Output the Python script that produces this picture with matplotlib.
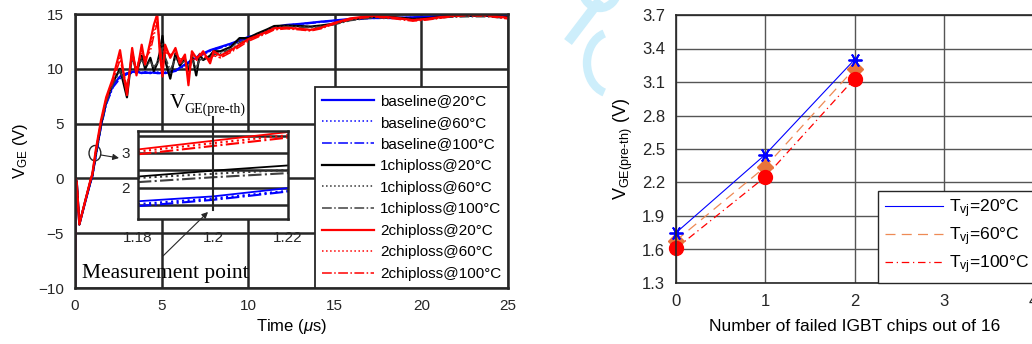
import matplotlib
matplotlib.use("Agg")
import matplotlib.pyplot as plt
from matplotlib.patches import Ellipse, Arc, FancyArrowPatch

plt.rcParams['font.family'] = ['Liberation Sans', 'DejaVu Sans']
plt.rcParams['mathtext.fontset'] = 'custom'
plt.rcParams['mathtext.rm'] = 'Liberation Sans'
plt.rcParams['mathtext.it'] = 'Liberation Sans:italic'
plt.rcParams['mathtext.bf'] = 'Liberation Sans:bold'

# ---- left panel: gate voltage waveforms ----
t_us = [0, 0.02, 0.1, 0.25, 0.6, 0.9, 1.0, 1.2, 1.5, 1.8, 2.2, 2.6, 3.0, 3.3, 3.55,
        3.85, 4.05, 4.35, 4.55, 4.75, 4.9, 5.05, 5.2, 5.5, 5.8, 6.05, 6.35, 6.55, 6.75, 7.0,
        7.2, 7.4, 7.8, 8.0, 8.4, 9.0, 9.5, 10.0, 10.5, 11.1, 11.5, 12.2, 13.0, 13.6, 14.2,
        14.9, 15.9, 17.2, 18.5, 19.5, 20.3, 21.5, 22.6, 23.8, 25.0]

base_20 = [-9.6, 0, -0.3, -4.2, -2.1, -0.3, 0.2, 2.1, 4.8, 6.9, 8.5, 9.3, 9.6, 9.7, 9.8,
           9.6, 9.7, 9.6, 9.7, 9.6, 9.6, 9.7, 9.6, 9.7, 9.8, 10.1, 10.4, 10.6, 10.8, 11.0,
           11.3, 11.4, 11.7, 11.8, 12.0, 12.3, 12.6, 12.9, 13.1, 13.5, 13.8, 14.0, 14.1, 14.2, 14.3,
           14.4, 14.55, 14.65, 14.65, 14.7, 14.75, 14.85, 14.85, 14.85, 14.85]
base_60 = [-9.6, 0, -0.3, -4.2, -2.1, -0.3, 0.2, 2.0, 4.7, 6.8, 8.4, 9.2, 9.5, 9.7, 9.7,
           9.7, 9.6, 9.7, 9.6, 9.7, 9.7, 9.6, 9.7, 9.8, 9.9, 10.1, 10.3, 10.5, 10.7, 11.0,
           11.2, 11.4, 11.6, 11.8, 12.0, 12.3, 12.5, 12.8, 13.1, 13.4, 13.7, 14.0, 14.1, 14.2, 14.3,
           14.4, 14.5, 14.6, 14.65, 14.7, 14.75, 14.8, 14.85, 14.85, 14.8]
base_100 = [-9.6, 0, -0.3, -4.2, -2.1, -0.4, 0.1, 1.9, 4.6, 6.7, 8.3, 9.1, 9.5, 9.6, 9.7,
            9.6, 9.6, 9.6, 9.6, 9.6, 9.6, 9.6, 9.6, 9.7, 9.8, 10.0, 10.3, 10.5, 10.7, 10.9,
            11.1, 11.3, 11.6, 11.7, 11.9, 12.2, 12.5, 12.8, 13.0, 13.4, 13.7, 13.9, 14.05, 14.15, 14.25,
            14.35, 14.5, 14.6, 14.6, 14.65, 14.7, 14.8, 14.8, 14.8, 14.8]

chip1_20 = [-9.6, 0, -0.3, -4.2, -2.0, -0.2, 0.3, 2.3, 5.0, 7.1, 8.8, 10.0, 7.4, 11.5, 9.6,
            11.2, 10.0, 11.0, 9.8, 10.5, 11.5, 13.0, 10.8, 9.1, 11.4, 10.3, 10.9, 9.8, 11.3, 9.4,
            11.3, 10.8, 11.2, 11.6, 11.6, 12.0, 12.8, 12.8, 13.2, 13.6, 13.9, 13.95, 13.9, 13.85, 13.95,
            14.1, 14.5, 14.75, 14.7, 14.55, 14.6, 14.8, 14.85, 14.85, 14.7]
chip1_60 = [-9.6, 0, -0.3, -4.2, -2.0, -0.2, 0.3, 2.2, 4.9, 7.0, 8.7, 9.9, 7.9, 11.1, 9.9,
            11.0, 10.2, 10.8, 10.0, 10.6, 11.2, 12.4, 11.0, 9.5, 11.1, 10.4, 10.8, 10.0, 11.0, 9.8,
            11.0, 10.9, 11.1, 11.4, 11.5, 11.9, 12.6, 12.7, 13.1, 13.5, 13.8, 13.9, 13.85, 13.8, 13.9,
            14.05, 14.45, 14.7, 14.65, 14.5, 14.55, 14.75, 14.8, 14.8, 14.65]
chip1_100 = [-9.6, 0, -0.3, -4.2, -2.0, -0.3, 0.2, 2.1, 4.8, 6.9, 8.6, 9.8, 8.3, 10.8, 10.1,
             10.8, 10.3, 10.6, 10.2, 10.5, 11.0, 11.9, 11.1, 9.9, 10.9, 10.5, 10.7, 10.2, 10.8, 10.1,
             10.8, 10.9, 11.0, 11.3, 11.4, 11.8, 12.4, 12.6, 13.0, 13.4, 13.7, 13.85, 13.8, 13.75, 13.85,
             14.0, 14.4, 14.65, 14.6, 14.45, 14.5, 14.7, 14.75, 14.75, 14.6]

chip2_20 = [-9.6, 0, -0.3, -4.2, -2.0, -0.1, 0.4, 2.6, 5.3, 7.4, 9.2, 11.7, 7.6, 11.9, 9.4,
            12.2, 10.4, 12.5, 14.0, 15.0, 11.3, 9.3, 12.2, 11.0, 11.9, 10.5, 11.3, 8.5, 11.6, 11.0,
            11.2, 11.6, 10.5, 11.6, 11.2, 11.7, 12.2, 12.7, 13.0, 13.4, 13.7, 13.75, 13.65, 13.55, 13.75,
            14.15, 14.6, 14.85, 14.65, 14.45, 14.55, 14.8, 14.95, 14.9, 14.65]
chip2_60 = [-9.6, 0, -0.3, -4.1, -2.0, -0.1, 0.4, 2.5, 5.2, 7.3, 9.0, 11.2, 8.0, 11.5, 9.8,
            11.8, 10.8, 12.0, 13.5, 14.6, 11.8, 9.8, 11.8, 11.2, 11.6, 10.7, 11.1, 9.0, 11.3, 10.8,
            11.4, 11.3, 10.8, 11.4, 11.0, 11.6, 12.1, 12.6, 12.9, 13.3, 13.6, 13.7, 13.6, 13.5, 13.7,
            14.1, 14.55, 14.8, 14.6, 14.4, 14.5, 14.75, 14.9, 14.85, 14.6]
chip2_100 = [-9.6, 0, -0.3, -4.1, -2.0, -0.2, 0.3, 2.4, 5.1, 7.2, 8.9, 10.8, 8.4, 11.0, 10.1,
             11.4, 11.0, 11.6, 13.0, 14.2, 12.2, 10.2, 11.5, 11.3, 11.4, 10.9, 10.9, 9.4, 11.0, 10.7,
             11.3, 11.1, 10.9, 11.2, 11.0, 11.5, 12.0, 12.5, 12.85, 13.25, 13.55, 13.65, 13.55, 13.45, 13.65,
             14.05, 14.5, 14.75, 14.55, 14.35, 14.45, 14.7, 14.85, 14.8, 14.55]

# zoomed window around the measurement point
t_zoom = [1.18, 1.2, 1.22]
zoom_base_20 = [1.61, 1.75, 1.99]
zoom_base_60 = [1.53, 1.69, 1.91]
zoom_base_100 = [1.47, 1.65, 1.89]
zoom_chip1_20 = [2.32, 2.49, 2.64]
zoom_chip1_60 = [2.28, 2.40, 2.51]
zoom_chip1_100 = [2.16, 2.30, 2.42]
zoom_chip2_20 = [3.10, 3.35, 3.60]
zoom_chip2_60 = [3.04, 3.28, 3.51]
zoom_chip2_100 = [2.96, 3.20, 3.44]

# ---- right panel: V_GE(pre-th) vs failed chips ----
failed_chips = [0, 1, 2]
vpre_20 = [1.75, 2.45, 3.30]
vpre_60 = [1.68, 2.34, 3.22]
vpre_100 = [1.61, 2.25, 3.13]

series = [
    (base_20, zoom_base_20, 'baseline@20°C', 'blue', '-', 1.6),
    (base_60, zoom_base_60, 'baseline@60°C', 'blue', ':', 1.1),
    (base_100, zoom_base_100, 'baseline@100°C', 'blue', '-.', 1.1),
    (chip1_20, zoom_chip1_20, '1chiploss@20°C', 'black', '-', 1.6),
    (chip1_60, zoom_chip1_60, '1chiploss@60°C', '#333333', ':', 1.1),
    (chip1_100, zoom_chip1_100, '1chiploss@100°C', '#404040', '-.', 1.1),
    (chip2_20, zoom_chip2_20, '2chiploss@20°C', 'red', '-', 1.6),
    (chip2_60, zoom_chip2_60, '2chiploss@60°C', 'red', ':', 1.1),
    (chip2_100, zoom_chip2_100, '2chiploss@100°C', 'red', '-.', 1.1),
]

W, H = 1032, 344
fig = plt.figure(figsize=(10.32, 3.44), dpi=100)

def px_axes(x0, y0, x1, y1):
    return fig.add_axes([x0 / W, 1 - y1 / H, (x1 - x0) / W, (y1 - y0) / H])

def fpt(x, y):
    return (x / W, 1 - y / H)

gridc = '#262626'
wm = '#cdeefb'

# faint watermark fragment between the panels
fig.add_artist(Arc(fpt(612, 63), 50 / W, 62 / H, theta1=95, theta2=265,
                   transform=fig.transFigure, color=wm, lw=6, zorder=0))
fig.add_artist(plt.Line2D([600 / W, 568 / W], [1 - 0 / H, 1 - 42 / H],
                          color=wm, lw=7, solid_capstyle='butt', zorder=0))
fig.add_artist(Arc(fpt(600, -12), 36 / W, 40 / H, theta1=200, theta2=340,
                   transform=fig.transFigure, color=wm, lw=6, zorder=0))

ax = px_axes(75, 14, 508, 288)
for v, vz, lab, c, ls, lw in series:
    ax.plot(t_us, v, color=c, ls=ls, lw=lw, label=lab)
ax.set_xlim(0, 25)
ax.set_ylim(-10, 15)
ax.set_xticks([0, 5, 10, 15, 20, 25])
ax.set_yticks([-10, -5, 0, 5, 10, 15])
ax.grid(True, color=gridc, lw=1.8)
ax.set_axisbelow(True)
ax.tick_params(direction='in', labelsize=11, length=0, pad=8, colors=gridc, labelcolor='#262626')
for s in ax.spines.values():
    s.set_linewidth(1.8)
    s.set_color(gridc)
ax.set_xlabel(r'Time ($\mu$s)', fontsize=12, labelpad=3)
ax.set_ylabel(r'V$_{\rm GE}$ (V)', fontsize=12, labelpad=6)
leg = ax.legend(loc='lower right', bbox_to_anchor=(1.0, 0.0), borderaxespad=0,
                fontsize=11, handlelength=3.4, handletextpad=0.4, labelspacing=0.5,
                fancybox=False, framealpha=1, edgecolor='#262626', borderpad=0.45)
leg.get_frame().set_linewidth(1.3)

# inset
axi = px_axes(138, 131, 288, 219)
for v, vz, lab, c, ls, lw in series:
    axi.plot(t_zoom, vz, color=c, ls=ls, lw=1.3 if ls == '-' else 1.5)
axi.set_xlim(1.18, 1.22)
axi.set_ylim(1.1, 3.63)
axi.set_xticks([1.18, 1.2, 1.22])
axi.set_xticklabels(['1.18', '1.2', '1.22'])
axi.set_yticks([1.5, 2, 2.5, 3, 3.5])
axi.set_yticklabels(['', '2', '', '3', ''])
axi.grid(True, axis='y', color=gridc, lw=1.8)
axi.set_axisbelow(True)
axi.tick_params(length=0, labelsize=11, pad=9, labelcolor='#262626')
axi.tick_params(axis='y', pad=6)
for s in axi.spines.values():
    s.set_linewidth(1.8)
    s.set_color(gridc)

# annotations
fig.text(*fpt(170, 108), 'V', family='Liberation Serif', fontsize=15, ha='left', va='baseline')
fig.text(*fpt(184, 113), 'GE(pre-th)', family='Liberation Serif', fontsize=10, ha='left', va='baseline')
fig.add_artist(plt.Line2D([213 / W, 213 / W], [1 - 117 / H, 1 - 210 / H], color='#262626',
                          lw=1.5, zorder=5))
fig.text(*fpt(82, 278), 'Measurement point', family='Liberation Serif', fontsize=15.5,
         ha='left', va='baseline')
fig.add_artist(FancyArrowPatch(fpt(163, 256), fpt(208, 212), transform=fig.transFigure,
                               arrowstyle='-|>', color='#262626', lw=0.8, mutation_scale=9,
                               shrinkA=0, shrinkB=0, zorder=5))
ax.add_patch(Ellipse((1.15, 2.3), 0.68, 1.4, fill=False, ec='#262626', lw=1.0))
fig.add_artist(FancyArrowPatch(fpt(101, 155), fpt(119, 158), transform=fig.transFigure,
                               arrowstyle='-|>', color='#262626', lw=0.8, mutation_scale=9,
                               shrinkA=0, shrinkB=0, zorder=5))

# right panel
axr = px_axes(676, 15, 1033, 283)
axr.plot(failed_chips, vpre_20, color='blue', ls='-', lw=0.8, label=r'T$_{\rm vj}$=20°C')
axr.plot(failed_chips, vpre_60, color='#EE8A55', ls=(0, (8, 5)), lw=0.9, label=r'T$_{\rm vj}$=60°C')
axr.plot(failed_chips, vpre_100, color='red', ls=(0, (6, 3, 1, 3)), lw=0.9, label=r'T$_{\rm vj}$=100°C')
axr.plot(failed_chips, vpre_60, ls='none', marker='D', ms=8, color='#E8743B', clip_on=False)
axr.plot(failed_chips, vpre_100, ls='none', marker='o', ms=10, color='red', clip_on=False)
axr.plot(failed_chips, vpre_20, ls='none', marker=(6, 2, 90), ms=10, mew=1.3, color='blue',
         clip_on=False)
axr.set_xlim(0, 4)
axr.set_ylim(1.3, 3.7)
axr.set_xticks([0, 1, 2, 3, 4])
axr.set_yticks([1.3, 1.6, 1.9, 2.2, 2.5, 2.8, 3.1, 3.4, 3.7])
axr.grid(True, color='#555555', lw=1.0)
axr.set_axisbelow(True)
axr.tick_params(length=0, labelsize=12, pad=8, labelcolor='#262626')
for s in axr.spines.values():
    s.set_linewidth(1.2)
    s.set_color('#262626')
axr.set_xlabel('Number of failed IGBT chips out of 16', fontsize=12.5, labelpad=7)
axr.set_ylabel('V$_{\\rm GE(pre\u2010th)}$ (V)', fontsize=13, labelpad=5)
legr = axr.legend(loc='lower left', bbox_to_anchor=(0.566, 0.0), borderaxespad=0,
                  fontsize=12.6, handlelength=3.3, handletextpad=0.34, labelspacing=0.3,
                  fancybox=False, framealpha=1, edgecolor='#262626', borderpad=0.4)
legr.get_frame().set_linewidth(1.0)

plt.savefig('out.png', dpi=100)
